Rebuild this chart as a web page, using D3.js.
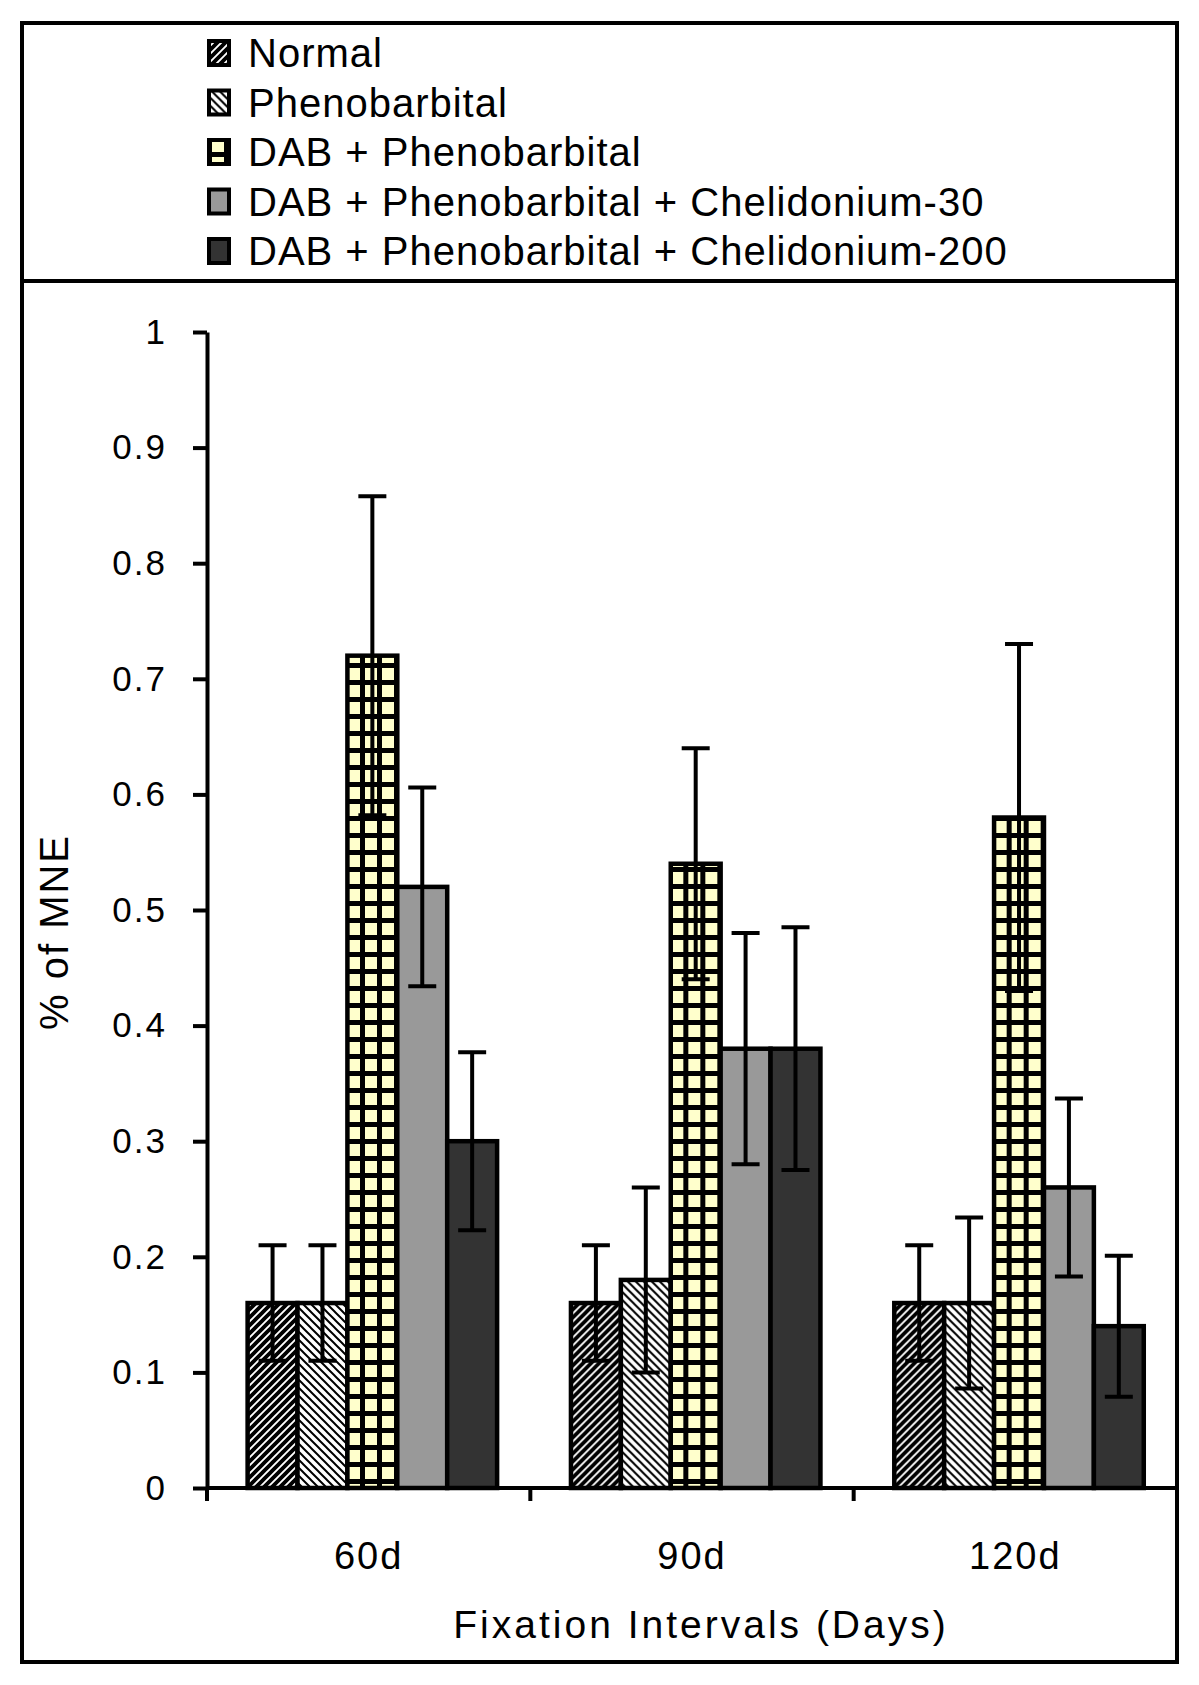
<!DOCTYPE html>
<html>
<head>
<meta charset="utf-8">
<script src="https://cdn.jsdelivr.net/npm/d3@7"></script>
<style>
  body { margin: 0; background: #fff; }
  text { font-family: "Liberation Sans", Arial, sans-serif; fill: #000; }
</style>
</head>
<body>
<div id="chart"></div>
<script>
// categories and series
var categories = ["60d", "90d", "120d"];
var series = ["Normal", "Phenobarbital", "DAB + Phenobarbital",
  "DAB + Phenobarbital + Chelidonium-30", "DAB + Phenobarbital + Chelidonium-200"];

// mean values per series (60d, 90d, 120d)
var normalVals = [0.16, 0.16, 0.16];
var phenoVals  = [0.16, 0.18, 0.16];
var dabVals    = [0.72, 0.54, 0.58];
var c30Vals    = [0.52, 0.38, 0.26];
var c200Vals   = [0.30, 0.38, 0.14];

// error bar half-lengths
var normalErr = [0.05, 0.05, 0.05];
var phenoErr  = [0.05, 0.08, 0.074];
var dabErr    = [0.138, 0.10, 0.15];
var c30Err    = [0.086, 0.10, 0.077];
var c200Err   = [0.077, 0.105, 0.061];

var yTicks = [0, 0.1, 0.2, 0.3, 0.4, 0.5, 0.6, 0.7, 0.8, 0.9, 1];
var yTickLabels = ["0", "0.1", "0.2", "0.3", "0.4", "0.5", "0.6", "0.7", "0.8", "0.9", "1"];

var allVals = [normalVals, phenoVals, dabVals, c30Vals, c200Vals];
var allErr = [normalErr, phenoErr, dabErr, c30Err, c200Err];
var fills = ["url(#pNormal)", "url(#pPheno)", "url(#pGrid)", "#999999", "#333333"];

var width = 1199, height = 1685;
var svg = d3.select("#chart").append("svg")
  .attr("width", width)
  .attr("height", height)
  .style("background", "#fff");

// patterns
var defs = svg.append("defs");
var pn = defs.append("pattern").attr("id", "pNormal")
  .attr("patternUnits", "userSpaceOnUse").attr("width", 8).attr("height", 8);
pn.append("rect").attr("width", 8).attr("height", 8).attr("fill", "#fff");
pn.append("path").attr("d", "M-2,10 L10,-2 M-2,2 L2,-2 M6,10 L10,6")
  .attr("stroke", "#000").attr("stroke-width", 3.8);

var pp = defs.append("pattern").attr("id", "pPheno")
  .attr("patternUnits", "userSpaceOnUse").attr("width", 8).attr("height", 8);
pp.append("rect").attr("width", 8).attr("height", 8).attr("fill", "#fff");
pp.append("path").attr("d", "M-2,-2 L10,10 M-2,6 L2,10 M6,-2 L10,2")
  .attr("stroke", "#000").attr("stroke-width", 2);

var pg = defs.append("pattern").attr("id", "pGrid")
  .attr("patternUnits", "userSpaceOnUse").attr("width", 17).attr("height", 17);
pg.append("rect").attr("width", 17).attr("height", 17).attr("fill", "#000");
pg.append("rect").attr("x", 5).attr("y", 5).attr("width", 12).attr("height", 12).attr("fill", "#FFFFCC");

// outer frame and legend separator
svg.append("rect")
  .attr("x", 22).attr("y", 23).attr("width", 1155).attr("height", 1639)
  .attr("fill", "none").attr("stroke", "#000").attr("stroke-width", 4);
svg.append("line")
  .attr("x1", 22).attr("x2", 1177).attr("y1", 281).attr("y2", 281)
  .attr("stroke", "#000").attr("stroke-width", 4);

// legend
var legend = svg.append("g").selectAll("g")
  .data(series)
  .enter().append("g")
    .attr("transform", function(d, i) { return "translate(207," + (53 + i * 49.5) + ")"; });
legend.append("rect")
  .attr("x", 2).attr("y", -12).attr("width", 20).attr("height", 24)
  .attr("fill", function(d, i) { return fills[i]; })
  .attr("stroke", "#000").attr("stroke-width", 4);
legend.append("text")
  .attr("x", 41).attr("y", 0).attr("dy", "0.36em")
  .style("font-size", "40px").style("letter-spacing", "1px")
  .text(function(d) { return d; });

// scales
var y = d3.scaleLinear().domain([0, 1]).range([1488, 332]);
var x0 = d3.scaleBand().domain(categories).range([207, 1177]);
var x1 = d3.scaleBand().domain(series).range([0, x0.bandwidth()]).paddingOuter(0.74).align(0.55);

// y axis
var yAxis = svg.append("g")
  .attr("transform", "translate(207,0)")
  .call(d3.axisLeft(y).tickValues(yTicks)
    .tickFormat(function(d, i) { return yTickLabels[i]; })
    .tickSize(14).tickSizeOuter(0).tickPadding(26));
yAxis.select(".domain").attr("stroke-width", 4);
yAxis.selectAll(".tick line").attr("stroke-width", 4);
yAxis.selectAll(".tick text")
  .style("font-size", "35px").style("letter-spacing", "2px")
  .attr("font-family", null);

// bars
var groups = svg.append("g").selectAll("g")
  .data(categories)
  .enter().append("g")
    .attr("transform", function(d) { return "translate(" + x0(d) + ",0)"; });

series.forEach(function(s, si) {
  groups.append("rect")
    .attr("x", x1(s))
    .attr("y", function(d, ci) { return y(allVals[si][ci]); })
    .attr("width", x1.bandwidth())
    .attr("height", function(d, ci) { return y(0) - y(allVals[si][ci]); })
    .attr("fill", fills[si])
    .attr("stroke", "#000").attr("stroke-width", 4.5);
});

// error bars
series.forEach(function(s, si) {
  var cx = x1(s) + x1.bandwidth() / 2;
  groups.append("path")
    .attr("d", function(d, ci) {
      var v = allVals[si][ci], e = allErr[si][ci];
      var top = y(v + e), bot = y(v - e);
      return "M" + cx + "," + top + "V" + bot +
        "M" + (cx - 14) + "," + top + "H" + (cx + 14) +
        "M" + (cx - 14) + "," + bot + "H" + (cx + 14);
    })
    .attr("fill", "none").attr("stroke", "#000").attr("stroke-width", 4);
});

// x axis
svg.append("line")
  .attr("x1", 207).attr("x2", 1177).attr("y1", y(0)).attr("y2", y(0))
  .attr("stroke", "#000").attr("stroke-width", 4);
var xTickPos = categories.map(function(c) { return x0(c); }).concat([x0(categories[2]) + x0.bandwidth()]);
svg.append("g").selectAll("line")
  .data(xTickPos)
  .enter().append("line")
    .attr("x1", function(d) { return d; }).attr("x2", function(d) { return d; })
    .attr("y1", y(0)).attr("y2", y(0) + 13)
    .attr("stroke", "#000").attr("stroke-width", 4);
svg.append("g").selectAll("text")
  .data(categories)
  .enter().append("text")
    .attr("x", function(d) { return x0(d) + x0.bandwidth() / 2; })
    .attr("y", 1555).attr("dy", "0.36em")
    .attr("text-anchor", "middle")
    .style("font-size", "38px").style("letter-spacing", "2px")
    .text(function(d) { return d; });

// axis titles
svg.append("text")
  .attr("x", 701).attr("y", 1624).attr("dy", "0.36em")
  .attr("text-anchor", "middle")
  .style("font-size", "39px").style("letter-spacing", "3px")
  .text("Fixation Intervals (Days)");
svg.append("text")
  .attr("transform", "translate(54,932) rotate(-90)")
  .attr("dy", "0.36em")
  .attr("text-anchor", "middle")
  .style("font-size", "40px").style("letter-spacing", "2px")
  .text("% of MNE");
</script>
</body>
</html>
